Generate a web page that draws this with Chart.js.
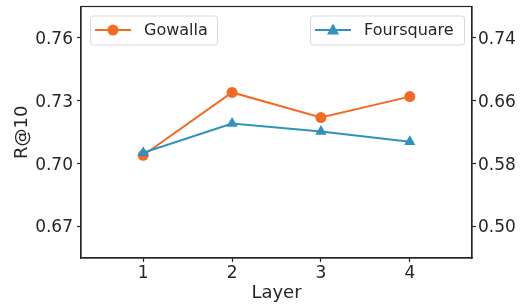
<!DOCTYPE html>
<html>
<head>
<meta charset="utf-8">
<script src="https://cdn.jsdelivr.net/npm/chart.js@4"></script>
<style>
  html, body { margin: 0; padding: 0; background: #fff; }
  #wrap { width: 524px; height: 305px; }
</style>
</head>
<body>
<div id="wrap"><canvas id="chart"></canvas></div>
<script>
// =====================
// DATA
// =====================
const layers = [1, 2, 3, 4];
const gowalla = [0.704, 0.734, 0.722, 0.732];
const foursquare = [0.594, 0.631, 0.621, 0.608];
const leftTicks = [0.67, 0.70, 0.73, 0.76];
const rightTicks = [0.50, 0.58, 0.66, 0.74];

const ORANGE = '#f36b22';
const BLUE = '#2f93bd';
const INK = '#262626';
const FONT = "'DejaVu Sans', sans-serif";

// frame (matplotlib box) + two legends
const framePlugin = {
  id: 'frame',
  afterDatasetsDraw(chart) {
    const ctx = chart.ctx;
    const a = chart.chartArea;
    ctx.save();
    ctx.strokeStyle = INK;
    ctx.lineWidth = 1.2;
    ctx.strokeRect(a.left, a.top, a.right - a.left, a.bottom - a.top);

    function legend(x, y, w, label, color, style) {
      const h = 29;
      ctx.fillStyle = 'rgba(255,255,255,0.85)';
      ctx.strokeStyle = '#d9d9d9';
      ctx.lineWidth = 1;
      ctx.beginPath();
      ctx.roundRect(x + 0.5, y + 0.5, w, h, 3);
      ctx.fill();
      ctx.stroke();
      const cy = y + h / 2;
      ctx.strokeStyle = color;
      ctx.lineWidth = 2;
      ctx.beginPath();
      ctx.moveTo(x + 5, cy);
      ctx.lineTo(x + 41, cy);
      ctx.stroke();
      ctx.fillStyle = color;
      ctx.beginPath();
      if (style === 'circle') {
        ctx.arc(x + 23, cy, 5.5, 0, Math.PI * 2);
      } else {
        ctx.moveTo(x + 23, cy - 6.5);
        ctx.lineTo(x + 29, cy + 4.5);
        ctx.lineTo(x + 17, cy + 4.5);
        ctx.closePath();
      }
      ctx.fill();
      ctx.fillStyle = INK;
      ctx.font = '16px ' + FONT;
      ctx.textBaseline = 'middle';
      ctx.textAlign = 'left';
      ctx.fillText(label, x + 54, cy + 1);
    }
    legend(a.left + 9, a.top + 9, 127, 'Gowalla', ORANGE, 'circle');
    legend(a.right - 162, a.top + 9, 154, 'Foursquare', BLUE, 'triangle');
    ctx.restore();
  }
};

function fixTicks(values) {
  return scale => { scale.ticks = values.map(v => ({ value: v })); };
}

function fitY(width) {
  return s => {
    s.width = width;
    s.paddingTop = 0;
    s.paddingBottom = 0;
  };
}

new Chart(document.getElementById('chart'), {
  type: 'line',
  data: {
    datasets: [
      {
        label: 'Gowalla',
        data: layers.map((x, i) => ({ x, y: gowalla[i] })),
        yAxisID: 'y',
        borderColor: ORANGE,
        backgroundColor: ORANGE,
        borderWidth: 2,
        pointStyle: 'circle',
        pointRadius: 5.5,
        pointBorderWidth: 0,
        order: 2
      },
      {
        label: 'Foursquare',
        data: layers.map((x, i) => ({ x, y: foursquare[i] })),
        yAxisID: 'y1',
        borderColor: BLUE,
        backgroundColor: BLUE,
        borderWidth: 2,
        pointStyle: 'triangle',
        pointRadius: 6.5,
        pointBorderWidth: 0,
        order: 1
      }
    ]
  },
  options: {
    responsive: true,
    maintainAspectRatio: false,
    animation: false,
    layout: { padding: { top: 6, left: 0, right: 0, bottom: 0 } },
    plugins: { legend: { display: false }, tooltip: { enabled: false } },
    scales: {
      x: {
        type: 'linear',
        min: 0.3, max: 4.7,
        afterBuildTicks: fixTicks(layers),
        afterFit: s => { s.height = 47; },
        grid: { drawOnChartArea: false, drawTicks: true, tickLength: 4, tickWidth: 1.2, color: INK },
        border: { display: true, color: INK, width: 1.2 },
        ticks: { color: INK, font: { family: FONT, size: 17 }, padding: 1, callback: v => String(v) },
        title: { display: true, text: 'Layer', color: INK, font: { family: FONT, size: 18 }, padding: { top: 0, bottom: 1 } }
      },
      y: {
        position: 'left',
        min: 0.655, max: 0.775,
        afterBuildTicks: fixTicks(leftTicks),
        afterFit: fitY(81),
        grid: { drawOnChartArea: false, drawTicks: true, tickLength: 4, tickWidth: 1.2, color: INK },
        border: { display: true, color: INK, width: 1.2 },
        ticks: { color: INK, font: { family: FONT, size: 17 }, padding: 4, labelOffset: 1.5, callback: v => v.toFixed(2) },
        title: { display: true, text: 'R@10', color: INK, font: { family: FONT, size: 18 }, padding: { top: 12, bottom: 0 } }
      },
      y1: {
        position: 'right',
        min: 0.46, max: 0.78,
        afterBuildTicks: fixTicks(rightTicks),
        afterFit: fitY(52),
        grid: { drawOnChartArea: false, drawTicks: true, tickLength: 4, tickWidth: 1.2, color: INK },
        border: { display: true, color: INK, width: 1.2 },
        ticks: { color: INK, font: { family: FONT, size: 17 }, padding: 2, labelOffset: 1.5, callback: v => v.toFixed(2) }
      }
    }
  },
  plugins: [framePlugin]
});
</script>
</body>
</html>
